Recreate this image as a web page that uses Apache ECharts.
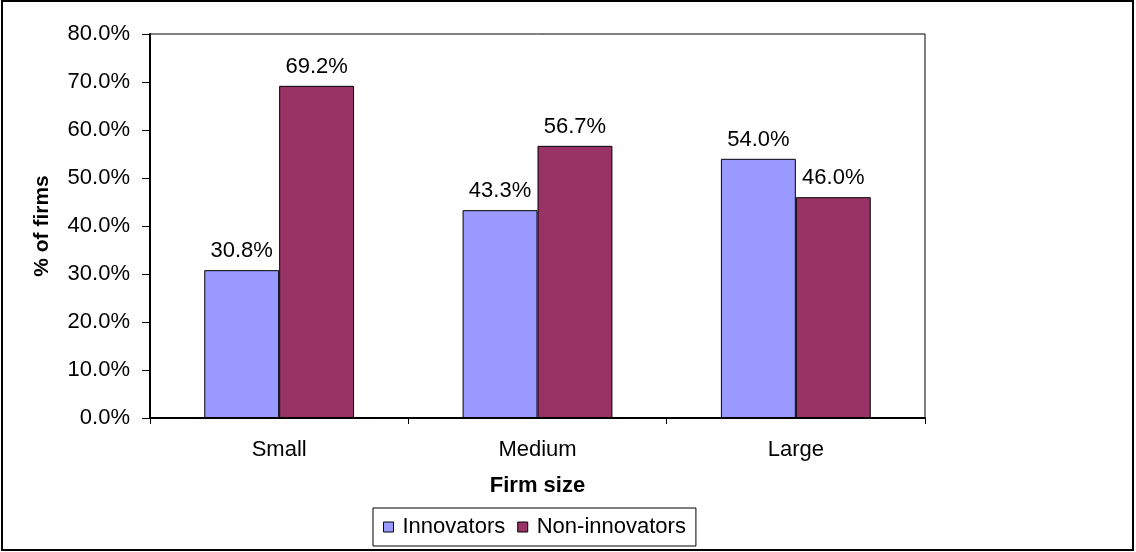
<!DOCTYPE html>
<html>
<head>
<meta charset="utf-8">
<style>
  html, body { margin: 0; padding: 0; background: #fff; }
  #chart { width: 1136px; height: 552px; }
</style>
<script src="https://cdn.jsdelivr.net/npm/echarts@6/dist/echarts.min.js"></script>
</head>
<body>
<div id="chart"></div>
<script>
// Share of firms by size class, innovators vs non-innovators
const categories = ['Small', 'Medium', 'Large'];
const innovators = [30.8, 43.3, 54.0];
const nonInnovators = [69.2, 56.7, 46.0];
const seriesNames = ['Innovators', 'Non-innovators'];

const FONT = '"Liberation Sans", Arial, sans-serif';
const pct = v => Number(v).toFixed(1) + '%';

const chart = echarts.init(document.getElementById('chart'), null, { renderer: 'canvas' });

const labelStyle = {
  show: true,
  position: 'top',
  distance: 8,
  color: '#000',
  fontFamily: FONT,
  fontSize: 22,
  formatter: p => pct(p.value)
};

chart.setOption({
  backgroundColor: '#fff',
  animation: false,
  textStyle: { fontFamily: FONT, color: '#000' },
  graphic: [{
    type: 'rect',
    shape: { x: 2, y: 1, width: 1131, height: 549 },
    style: { fill: 'none', stroke: '#000', lineWidth: 2 },
    silent: true
  }],
  grid: {
    left: 150, top: 34, right: 211, bottom: 134,
    show: true, borderColor: '#000', borderWidth: 1, backgroundColor: '#fff'
  },
  legend: {
    data: seriesNames,
    left: 373, top: 508,
    orient: 'horizontal',
    icon: 'rect',
    itemWidth: 10, itemHeight: 10, itemGap: 12,
    padding: [8, 10, 8, 10],
    borderColor: '#000', borderWidth: 1,
    backgroundColor: '#fff',
    textStyle: { fontFamily: FONT, fontSize: 22, color: '#000', padding: [0, 0, 0, 4] },
    itemStyle: { borderColor: '#000', borderWidth: 1 }
  },
  xAxis: {
    type: 'category',
    data: categories,
    name: 'Firm size',
    nameLocation: 'middle',
    nameGap: 57,
    nameTextStyle: { fontFamily: FONT, fontSize: 22, fontWeight: 'bold', color: '#000' },
    axisLine: { show: true, lineStyle: { color: '#000', width: 2 } },
    axisTick: { show: true, alignWithLabel: false, length: 6, lineStyle: { color: '#000', width: 1 } },
    axisLabel: { fontFamily: FONT, fontSize: 22, color: '#000', margin: 21 },
    splitLine: { show: false }
  },
  yAxis: {
    type: 'value',
    min: 0, max: 80, interval: 10,
    name: '% of firms',
    nameLocation: 'middle',
    nameGap: 97,
    nameRotate: 90,
    nameTextStyle: { fontFamily: FONT, fontSize: 21, fontWeight: 'bold', color: '#000' },
    axisLine: { show: true, lineStyle: { color: '#000', width: 2 } },
    axisTick: { show: true, length: 8, lineStyle: { color: '#000', width: 1 } },
    axisLabel: { fontFamily: FONT, fontSize: 22, color: '#000', margin: 20, formatter: v => pct(v) },
    splitLine: { show: false }
  },
  series: [
    {
      name: seriesNames[0],
      type: 'bar',
      data: innovators,
      barGap: '0%',
      barCategoryGap: '42%',
      itemStyle: { color: '#9999FF', borderColor: '#000', borderWidth: 1 },
      label: labelStyle
    },
    {
      name: seriesNames[1],
      type: 'bar',
      data: nonInnovators,
      itemStyle: { color: '#993366', borderColor: '#000', borderWidth: 1 },
      label: labelStyle
    }
  ]
});
</script>
</body>
</html>
